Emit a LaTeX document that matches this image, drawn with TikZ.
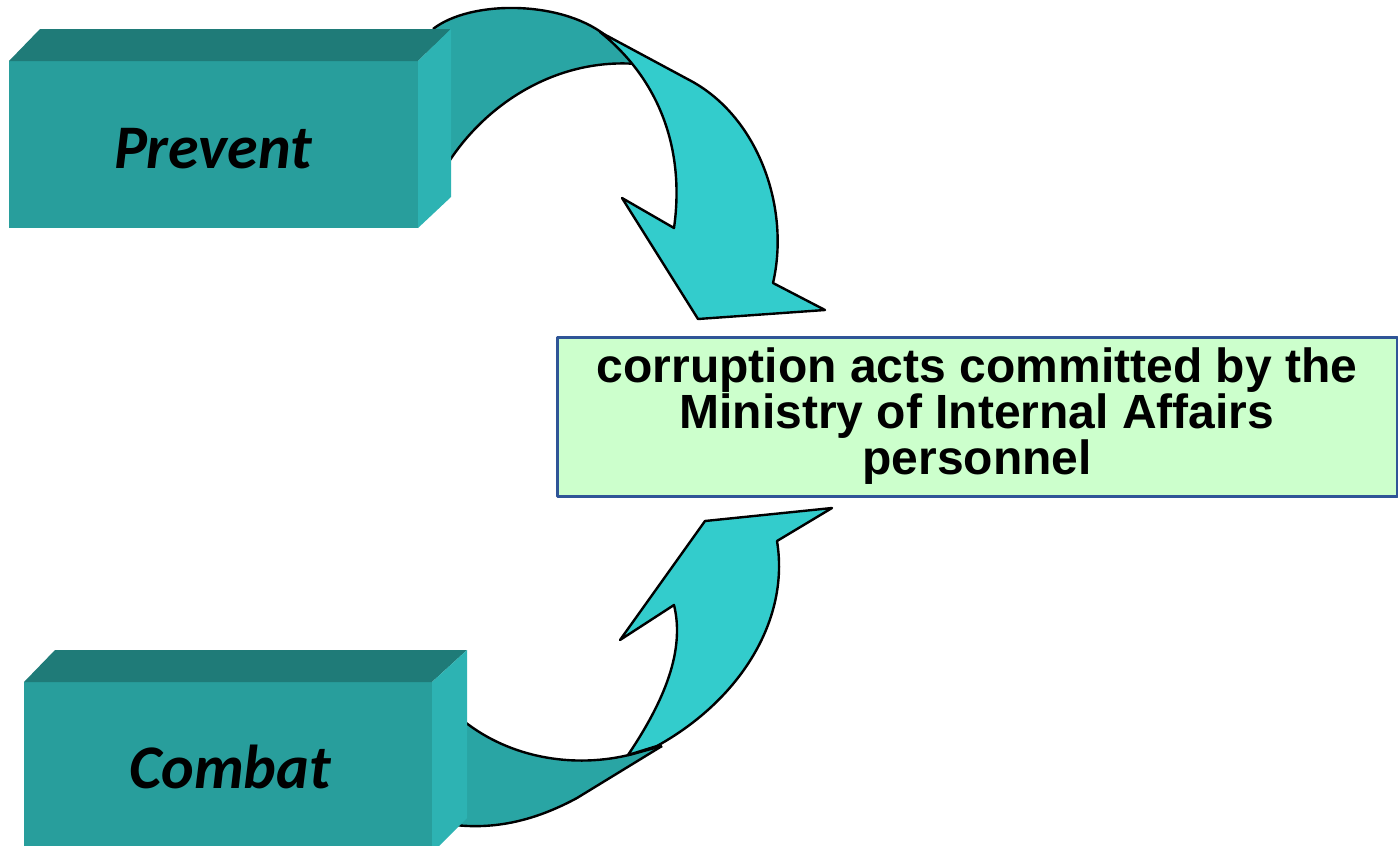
\documentclass[tikz,border=0pt]{standalone}
\usepackage{fontspec}
\setmainfont{Liberation Sans}
\newfontfamily\carl{Carlito}
\definecolor{boxfront}{HTML}{289E9C}
\definecolor{boxtop}{HTML}{1F7B78}
\definecolor{boxright}{HTML}{2DB3B3}
\definecolor{bandc}{HTML}{29A5A4}
\definecolor{lightc}{HTML}{33CCCC}
\definecolor{panelc}{HTML}{CCFFCC}
\definecolor{borderc}{HTML}{2F5597}
\begin{document}
\begin{tikzpicture}[x=1pt,y=-1pt,line join=round,
  edge/.style={draw=black,line width=2.4pt},
  lbl/.style={font=\carl\bfseries\itshape\fontsize{62}{70}\selectfont,anchor=base,inner sep=0},
  panel/.style={draw=borderc,line width=3pt,fill=panelc,minimum width=840pt,minimum height=159pt,
    align=center,inner sep=0,font=\bfseries\fontsize{48}{46}\selectfont}]
\useasboundingbox (0,0) rectangle (1398,846);
\clip (0,0) rectangle (1398,846);

% ---- top arrow: dark band
\fill[bandc] (433,29) .. controls (470,0) and (560,0) .. (605,35) -- (630,50) -- (637,64)
  .. controls (560,58) and (490,100) .. (450,160) -- (430,160) -- cycle;
\draw[edge] (433,29) .. controls (470,0) and (560,0) .. (605,35);
\draw[edge] (637,64) .. controls (560,58) and (490,100) .. (450,160);
% ---- top arrow: light head
\filldraw[fill=lightc,edge] (600,32) -- (693,82) .. controls (760,120) and (790,210) .. (773,283)
  -- (825,310) -- (698,319) -- (622,198) -- (674,228) .. controls (685,150) and (660,80) .. (600,32) -- cycle;

% ---- bottom arrow: dark band
\fill[bandc] (440,718) -- (460,718) .. controls (510,760) and (580,770) .. (640,752) -- (662,746)
  -- (577,798) .. controls (540,818) and (500,830) .. (455,825) -- (440,825) -- cycle;
\draw[edge] (460,718) .. controls (510,760) and (580,770) .. (640,752) -- (662,746);
\draw[edge] (662,746) -- (577,798) .. controls (540,818) and (500,830) .. (455,825);
% ---- bottom arrow: light head
\filldraw[fill=lightc,edge] (628,755) .. controls (665,700) and (685,650) .. (674,605) -- (620,640)
  -- (705,521) -- (832,508) -- (777,541) .. controls (790,620) and (740,700) .. (657,746) -- cycle;

% ---- top box
\fill[boxfront] (9,61) rectangle (418,228);
\fill[boxtop] (9,61) -- (40,29) -- (451,29) -- (418,61) -- cycle;
\fill[boxright] (418,61) -- (451,29) -- (451,197) -- (418,228) -- cycle;
\node[lbl] (prevent) at (213,168) {Prevent};

% ---- bottom box
\fill[boxfront] (24,682) rectangle (432,860);
\fill[boxtop] (24,682) -- (55,650) -- (467,650) -- (432,682) -- cycle;
\fill[boxright] (432,682) -- (467,650) -- (467,818) -- (432,853) -- cycle;
\node[lbl] (combat) at (230,788) {Combat};

% ---- target panel
\node[panel] (target) at (977,416.5) {corruption acts committed by the\\Ministry of Internal Affairs\\personnel};
\end{tikzpicture}
\end{document}
